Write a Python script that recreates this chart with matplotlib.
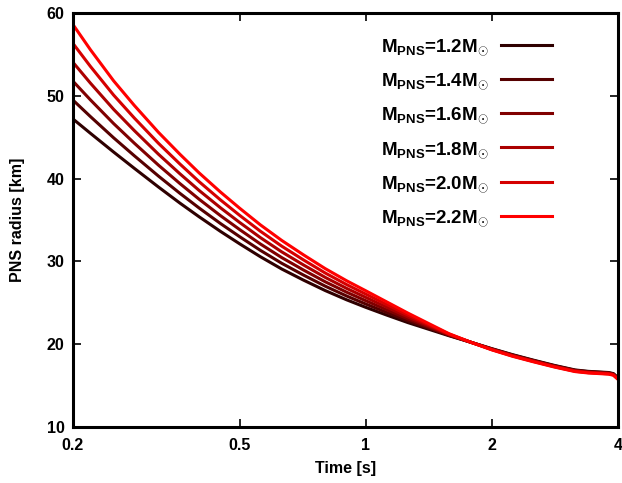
import matplotlib
matplotlib.use("Agg")
import matplotlib.pyplot as plt

plt.rcParams['font.family'] = ['Liberation Sans', 'DejaVu Sans']
plt.rcParams['font.weight'] = 'bold'
plt.rcParams['mathtext.fontset'] = 'custom'
plt.rcParams['mathtext.rm'] = 'Liberation Sans:bold'
plt.rcParams['mathtext.bf'] = 'Liberation Sans:bold'
plt.rcParams['mathtext.it'] = 'Liberation Sans:bold'

# time samples [s]
time = [0.2, 0.22, 0.25, 0.28, 0.32, 0.36, 0.4, 0.45, 0.5, 0.56, 0.63, 0.71, 0.8, 0.9, 1.0,
        1.12, 1.26, 1.41, 1.58, 1.78, 2.0, 2.24, 2.51, 2.82, 3.16, 3.4, 3.6, 3.8, 3.9, 4.0]

masses = ['1.2', '1.4', '1.6', '1.8', '2.0', '2.2']

r_12 = [47.20, 45.48, 43.21, 41.25, 38.98, 37.04, 35.39, 33.62, 32.12, 30.57, 29.08, 27.74, 26.48, 25.36, 24.45,
        23.53, 22.61, 21.82, 21.02, 20.24, 19.46, 18.74, 18.08, 17.44, 16.89, 16.72, 16.65, 16.58, 16.45, 15.95]
r_14 = [49.48, 47.50, 44.93, 42.77, 40.30, 38.22, 36.45, 34.57, 32.98, 31.34, 29.77, 28.35, 27.01, 25.82, 24.85,
        23.85, 22.84, 21.96, 21.07, 20.24, 19.43, 18.70, 18.04, 17.40, 16.85, 16.68, 16.61, 16.54, 16.41, 15.91]
r_16 = [51.76, 49.52, 46.65, 44.29, 41.62, 39.40, 37.51, 35.52, 33.84, 32.11, 30.46, 28.96, 27.54, 26.28, 25.25,
        24.17, 23.07, 22.10, 21.12, 20.24, 19.40, 18.66, 18.00, 17.36, 16.81, 16.64, 16.57, 16.50, 16.37, 15.87]
r_18 = [54.04, 51.54, 48.37, 45.81, 42.94, 40.58, 38.57, 36.47, 34.70, 32.88, 31.15, 29.57, 28.07, 26.74, 25.65,
        24.49, 23.30, 22.24, 21.17, 20.24, 19.37, 18.62, 17.96, 17.32, 16.77, 16.60, 16.53, 16.46, 16.33, 15.83]
r_20 = [56.32, 53.56, 50.09, 47.33, 44.26, 41.76, 39.63, 37.42, 35.56, 33.65, 31.84, 30.18, 28.60, 27.20, 26.05,
        24.81, 23.53, 22.38, 21.22, 20.24, 19.34, 18.58, 17.92, 17.28, 16.73, 16.56, 16.49, 16.42, 16.29, 15.79]
r_22 = [58.60, 55.58, 51.81, 48.85, 45.58, 42.94, 40.69, 38.37, 36.42, 34.42, 32.53, 30.79, 29.13, 27.66, 26.45,
        25.13, 23.76, 22.52, 21.27, 20.24, 19.31, 18.54, 17.88, 17.24, 16.69, 16.52, 16.45, 16.38, 16.25, 15.75]

radii = [r_12, r_14, r_16, r_18, r_20, r_22]
colors = ['#2e0000', '#560000', '#800000', '#ab0000', '#d50000', '#ff0000']

xticks = [0.2, 0.5, 1, 2, 4]
xticklabels = ['0.2', '0.5', '1', '2', '4']
yticks = [10, 20, 30, 40, 50, 60]

fig = plt.figure(figsize=(6.22, 4.83), dpi=100)
ax = fig.add_axes([73/622, 56/483, 545/622, 414/483])

for m, r, c in zip(masses, radii, colors):
    ax.plot(time, r, color=c, lw=2.2, solid_joinstyle='round',
            label=r'M$_{\mathrm{PNS}}$=' + m + r'M$_{\odot}$')

ax.set_xscale('log')
ax.set_xlim(0.2, 4)
ax.set_ylim(10, 60)
ax.xaxis.set_minor_locator(matplotlib.ticker.NullLocator())
ax.set_xticks(xticks)
ax.set_xticklabels(xticklabels)
ax.set_yticks(yticks)
ax.tick_params(which='both', direction='in', top=True, right=True,
               length=6, width=1.2, labelsize=11.5)
ax.tick_params(axis='x', pad=8)
ax.tick_params(axis='y', pad=6)
for lab in ax.get_xticklabels() + ax.get_yticklabels():
    lab.set_fontweight('bold')
for s in ax.spines.values():
    s.set_linewidth(2.2)

ax.set_xlabel('Time [s]', fontsize=11.5, fontweight='bold', labelpad=6)
ax.set_ylabel('PNS radius [km]', fontsize=11.5, fontweight='bold', labelpad=16)

leg = ax.legend(loc='upper right', bbox_to_anchor=(0.91, 0.983), frameon=False,
                markerfirst=False, fontsize=13.5, handlelength=2.7,
                labelspacing=0.76, handletextpad=0.7)

fig.savefig('out.png', dpi=100)
